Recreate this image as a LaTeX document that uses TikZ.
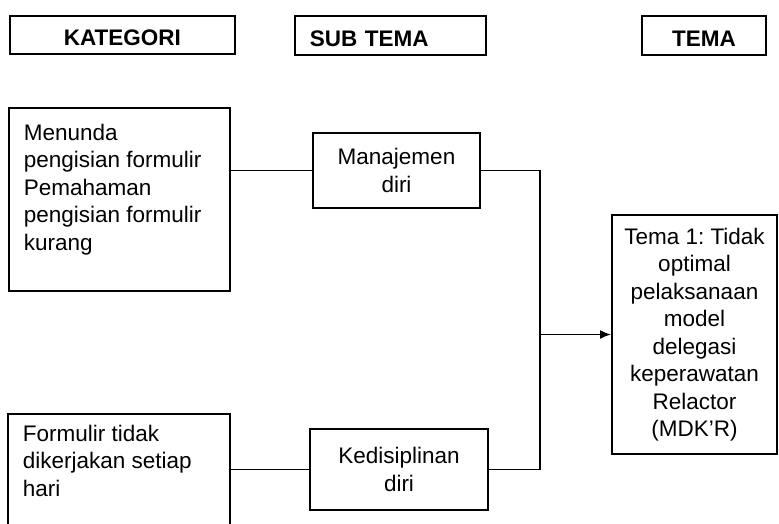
\documentclass[tikz,border=0pt]{standalone}
\usepackage{fontspec}
\setmainfont{Liberation Sans}
\usetikzlibrary{arrows.meta}

\begin{document}
\begin{tikzpicture}[x=1pt, y=-1pt, line width=1.8pt, font=\fontsize{22.5pt}{27.5pt}\selectfont\frenchspacing]

\useasboundingbox (0,0) rectangle (779,523);
\clip (0,0) rectangle (779,523);

% Judul kolom
\path [every node/.style={draw, inner sep=0pt, text height=22pt, text depth=0pt,
    font=\fontsize{22.5pt}{27.5pt}\selectfont\bfseries}]
  node[anchor=north west, minimum width=225pt, minimum height=38pt] (hkategori) at (9,15) {KATEGORI}
  node[anchor=north west, minimum height=39pt, text width=161pt, inner xsep=15pt, align=left] (hsubtema) at (294,15) {SUB TEMA}
  node[anchor=north west, minimum width=124pt, minimum height=39pt] (htema) at (641,15) {TEMA};

% Isi kolom
\path [every node/.style={draw}]
  node[anchor=north west, inner xsep=15pt, inner ysep=16pt] (kategori1) at (8,107)
    {\parbox[t][151pt][t]{191pt}{Menunda\\ pengisian formulir\\ Pemahaman\\ pengisian formulir\\ kurang}}
  node[anchor=north west, inner xsep=15pt, inner ysep=11pt] (kategori2) at (7,413)
    {\parbox[t][140pt][t]{192pt}{Formulir tidak\\ dikerjakan setiap\\ hari}}
  node[minimum width=167pt, minimum height=75pt, align=center] (subtema1) at (396.5,170.5) {Manajemen\\ diri}
  node[minimum width=178pt, minimum height=81pt, align=center] (subtema2) at (399,469.5) {Kedisiplinan\\ diri}
  node[minimum width=165pt, minimum height=239pt, align=center] (tema1) at (694.5,334.5)
    {Tema 1: Tidak\\ optimal\\ pelaksanaan\\ model\\ delegasi\\ keperawatan\\ Relactor\\ (MDK'R)};

\coordinate (sambung) at (540,334.5);

\begin{scope}[>={Latex[length=11pt,width=9pt]}]
	% Kategori ke sub tema
	\draw (kategori1.east |- subtema1.west) -- (subtema1.west) ;
	\draw (kategori2.east |- subtema2.west) -- (subtema2.west) ;
	% Sub tema ke tema
	\draw (subtema1.east) -| (sambung) |- (subtema2.east) ;
	\draw[->] (sambung) -- (sambung -| tema1.west) ;
\end{scope}

\end{tikzpicture}
\end{document}
